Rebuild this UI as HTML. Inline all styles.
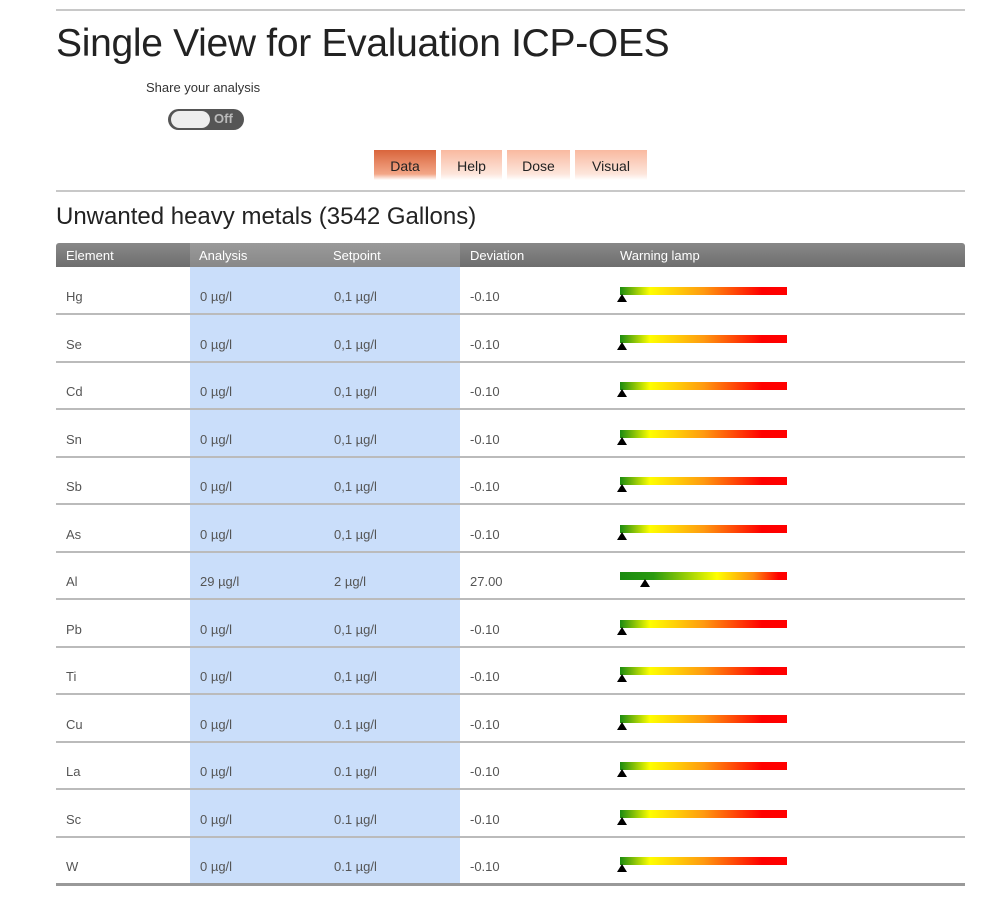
<!DOCTYPE html><html><head><style>
body{margin:0;width:1000px;height:901px;background:#fff;font-family:"Liberation Sans",sans-serif;position:relative;overflow:hidden}
.a{position:absolute}
.hl{position:absolute;left:56px;width:909px;height:2px;background:#c8c8c8}
.tab{position:absolute;top:150px;height:30px;line-height:32px;text-align:center;font-size:14px;color:#222;background:linear-gradient(#f9b9a0,#fde6dc 80%,#fff)}
.row{position:absolute;left:56px;width:909px;height:47px;font-size:13px;color:#555;border-bottom:2px solid #bbb;box-sizing:border-box}
.row span{position:absolute;top:22px}
.bar{position:absolute;left:564px;top:20px;width:167px;height:8px}
.tri{position:absolute;top:27px;width:0;height:0;border-left:5px solid transparent;border-right:5px solid transparent;border-bottom:8px solid #000}
</style></head><body>
<div class="hl" style="top:9px"></div>
<div class="a" style="left:56px;top:22px;font-size:39px;color:#222;letter-spacing:-0.3px">Single View for Evaluation ICP-OES</div>
<div class="a" style="left:146px;top:80px;font-size:13px;color:#333">Share your analysis</div>
<div class="a" style="left:168px;top:109px;width:76px;height:21px;border-radius:11px;background:#555"></div>
<div class="a" style="left:171px;top:111px;width:39px;height:17px;border-radius:9px;background:#eee"></div>
<div class="a" style="left:214px;top:111px;font-size:13px;font-weight:bold;color:#bbb">Off</div>
<div class="tab" style="left:374px;width:62px;background:linear-gradient(#d9653c,#f3a788 80%,#fff)">Data</div>
<div class="tab" style="left:441px;width:61px">Help</div>
<div class="tab" style="left:507px;width:63px">Dose</div>
<div class="tab" style="left:575px;width:72px">Visual</div>
<div class="hl" style="top:190px"></div>
<div class="a" style="left:56px;top:203px;font-size:24px;color:#222">Unwanted heavy metals (3542 Gallons)</div>
<div class="a" style="left:190px;top:243px;width:270px;height:642px;background:#cadefa"></div>
<div class="a" style="left:56px;top:243px;width:909px;height:24px;border-radius:3px 3px 0 0;background:linear-gradient(#888,#6e6e6e);font-size:13px;color:#fff">
<span class="a" style="left:10px;top:5px">Element</span><span class="a" style="left:414px;top:5px">Deviation</span><span class="a" style="left:564px;top:5px">Warning lamp</span></div>
<div class="a" style="left:190px;top:243px;width:135px;height:24px;background:linear-gradient(#9a9a9a,#888)"></div>
<div class="a" style="left:199px;top:248px;font-size:13px;color:#fff">Analysis</div>
<div class="a" style="left:325px;top:243px;width:135px;height:24px;background:linear-gradient(#9a9a9a,#888)"></div>
<div class="a" style="left:333px;top:248px;font-size:13px;color:#fff">Setpoint</div>
<div id="rows"></div>
<script>
var d=[["Hg","0,1"],["Se","0,1"],["Cd","0,1"],["Sn","0,1"],["Sb","0,1"],["As","0,1"],["Al","2"],["Pb","0,1"],["Ti","0,1"],["Cu","0.1"],["La","0.1"],["Sc","0.1"],["W","0.1"]];
var h="";
d.forEach(function(r,i){var top=267+i*47.5;var al=r[0]=="Al";
var g=al?"linear-gradient(90deg,#1a8a10,#2a9a10 20%,#ff0 58%,#ff8a10 80%,#f00 95%)":"linear-gradient(90deg,#1a8a10,#ff0 18%,#ff9a10 50%,#f00 85%)";
h+='<div class="row" style="top:'+top+'px;height:'+(i==12?49:48)+'px'+(i==12?';border-bottom:3px solid #999':'')+'"><span style="left:10px">'+r[0]+'</span><span style="left:144px">'+(al?"29":"0")+' µg/l</span><span style="left:278px">'+r[1]+' µg/l</span><span style="left:414px">'+(al?"27.00":"-0.10")+'</span><div class="bar" style="background:'+g+'"></div><div class="tri" style="left:'+(al?584:561)+'px"></div></div>';});
document.getElementById("rows").innerHTML=h;
</script>
</body></html>
